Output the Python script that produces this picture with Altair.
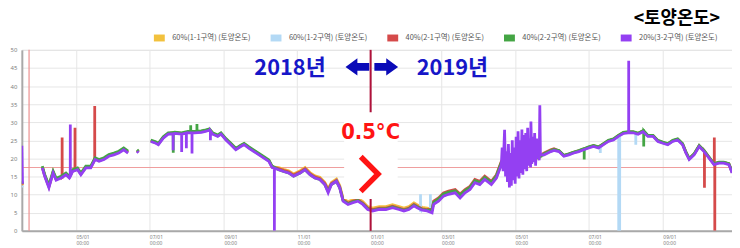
import altair as alt
import pandas as pd

START = pd.Timestamp("2018-03-17")

TITLE = "<토양온도>"
SERIES = ["60%(1-1구역) (토양온도)", "60%(1-2구역) (토양온도)", "40%(2-1구역) (토양온도)",
          "40%(2-2구역) (토양온도)", "20%(3-2구역) (토양온도)"]
COLORS = ["#f2c13d", "#b3d9f5", "#d54a4a", "#44a544", "#9440f2"]

# day offsets from 2018-03-17 (None rows = gaps in the record)
DAYS = [0, 0.5, 8, 17, 19, 22.5, 26, 28.5, 32.6, 36.7,
        39.5, 42.2, 46.3, 49.1, 53.2, 57.3, 60.9, 64.2, 68.3, 72.4,
        76.5, 80.6, 84.7, 88.3, 92, 95.8, 97, 101, 107.2, 110.8,
        113.5, 117.6, 121.7, 127.2, 132.7, 138.2, 143.7, 149.1, 151.9, 156.0,
        158.7, 162.9, 165.6, 169.7, 173.8, 177.9, 182.0, 184.8, 188.9, 193.0,
        197.2, 201.3, 205.4, 208.1, 213.6, 217.7, 221.8, 225.9, 231.4, 235.5,
        239.6, 243.7, 247.8, 251.9, 254.7, 257.4, 261.6, 264.3, 267.1, 271.2,
        275.3, 279.4, 283.5, 287.6, 291.7, 297.2, 302.7, 308.2, 313.6, 317.7,
        321.8, 326.0, 328.7, 332.9, 337.0, 341.1, 342.4, 346.5, 350.6, 354.8,
        360.3, 364.4, 368.5, 372.6, 376.7, 380.8, 384.9, 390.4, 394.6, 398.7,
        402, 408, 416, 424, 430, 434.3, 439.8, 442.5, 446.6, 450.7,
        454.8, 459.0, 463.1, 467.2, 471.3, 475.4, 479.5, 483.6, 487.7, 491.9,
        496.0, 500.1, 504.2, 508.3, 512.4, 516.5, 520.6, 524.8, 528.9, 533.0,
        537.1, 541.2, 545.3, 549.4, 552.2, 554.9, 559.0, 563.2, 567.3, 571.4,
        575.5, 579.6, 583.7, 587.9, 590.6]

P32 = [23.5, 13.0, None, 17.4, 15.1, 11.9, 16.0, 14.0, 14.6, 15.5,
       14.6, 16.4, 16.9, 15.5, 17.4, 17.4, 19.7, 19.2, 19.7, 20.6,
       21.0, 21.5, 22.4, 21.5, None, 22.0, 21.6, None, 24.7, 24.3,
       23.8, 25.6, 26.7, 26.9, 26.7, 27.1, 27.1, 27.2, 27.4, 27.8,
       26.7, 26.1, 26.7, 25.1, 23.8, 22.4, 23.3, 23.8, 22.8, 21.9,
       21.0, 20.1, 19.2, 17.5, 16.9, 16.4, 16.0, 15.1, 16.0, 16.9,
       15.5, 14.6, 14.2, 12.8, 10.5, 12.8, 13.7, 11.9, 8.2, 7.3,
       7.8, 8.2, 7.3, 5.9, 5.5, 5.9, 5.9, 6.4, 5.9, 5.5,
       5.9, 6.9, 6.4, 5.7, 5.5, 5.0, 7.3, 8.2, 9.6, 10.1,
       10.5, 9.1, 10.5, 11.4, 13.3, 12.8, 14.2, 12.8, 14.6, 18.3,
       19.2, 20.1, 19.7, 20.1, 20.3, 21.0, 21.9, 22.2, 21.9, 20.6,
       21.0, 21.5, 21.9, 22.4, 22.9, 23.3, 22.9, 23.8, 24.7, 25.1,
       26.1, 26.9, 27.1, 27.1, 26.7, 27.4, 26.1, 26.1, 24.7, 24.2,
       23.8, 24.7, 25.1, 23.8, 21.5, 19.7, 21.0, 23.3, 21.9, 20.1,
       18.3, 18.7, 18.7, 18.3, 16.0]

G22 = [13.8, 13.0, None, 17.9, 15.6, 12.6, 16.5, 14.5, 15.1, 16.0,
       15.1, 16.9, 17.4, 16.0, 17.9, 17.9, 20.2, 19.7, 20.2, 21.1,
       21.5, 22.0, 22.9, 22.0, None, 22.4, 22.0, None, 25.1, 24.7,
       24.2, 26.0, 27.1, 27.3, 27.1, 27.5, 27.5, 27.6, 27.8, 28.2,
       27.1, 26.5, 27.1, 25.5, 24.2, 22.8, 23.7, 24.2, 23.2, 22.3,
       21.4, 20.5, 19.6, 17.9, 16.9, 16.4, 16.0, 15.1, 16.0, 16.9,
       15.5, 14.6, 14.2, 12.8, 10.9, 12.8, 13.7, 11.9, 8.4, 7.5,
       8.0, 8.4, 7.5, 6.1, 5.7, 6.1, 6.1, 6.6, 6.1, 5.7,
       6.1, 7.1, 6.6, 5.9, 5.7, 5.8, 7.9, 8.8, 10.2, 10.7,
       11.1, 9.9, 11.1, 12.0, 13.9, 13.4, 14.8, 13.4, 15.2, 18.9,
       19.2, 20.1, 19.7, 20.1, 20.3, 21.3, 22.2, 22.5, 22.2, 20.9,
       21.3, 21.8, 22.2, 22.7, 23.2, 23.6, 23.2, 24.1, 25.0, 25.4,
       26.4, 27.2, 27.4, 27.4, 27.0, 27.7, 26.4, 26.4, 25.0, 24.5,
       24.1, 25.0, 25.4, 24.1, 21.8, 20.0, 21.3, 23.6, 22.2, 20.4,
       18.6, 19.0, 19.0, 18.6, 16.3]

R21 = [13.4, 12.8, None, 17.6, 15.3, 12.2, 16.2, 14.2, 14.8, 15.7,
       14.8, 16.6, 17.1, 15.7, 17.6, 17.6, 19.9, 19.4, 19.9, 20.8,
       21.2, 21.7, 22.6, 21.7, None, 22.2, 21.8, None, 24.9, 24.5,
       24.0, 25.8, 26.9, 27.1, 26.9, 27.3, 27.3, 27.4, 27.6, 28.0,
       26.9, 26.3, 26.9, 25.3, 24.0, 22.6, 23.5, 24.0, 23.0, 22.1,
       21.2, 20.3, 19.4, 17.7, 17.2, 16.7, 16.3, 15.4, 16.3, 17.2,
       15.8, 14.9, 14.5, 13.1, 11.3, 13.1, 14.0, 12.2, 8.6, 7.7,
       8.2, 8.6, 7.7, 6.3, 5.9, 6.3, 6.3, 6.8, 6.3, 5.9,
       6.3, 7.3, 6.8, 6.1, 5.9, 5.9, 8.2, 9.1, 10.5, 11.0,
       11.4, 10.2, 11.4, 12.3, 14.2, 13.7, 15.1, 13.7, 15.5, 19.2,
       19.5, 20.4, 20.0, 20.4, 20.6, 21.5, 22.4, 22.7, 22.1, 20.8,
       21.2, 21.7, 22.1, 22.6, 23.1, 23.5, 23.1, 24.0, 24.9, 25.3,
       26.3, 27.1, 27.3, 27.3, 26.9, 27.6, 26.3, 26.3, 24.9, 24.4,
       24.0, 24.9, 25.3, 24.0, 21.7, 19.9, 21.2, 23.5, 22.1, 20.3,
       18.5, 18.9, 18.9, 18.5, 16.2]

Y11 = [13.2, 12.6, None, 17.7, 15.4, 12.3, 16.3, 14.3, 14.9, 15.8,
       14.9, 16.7, 17.2, 15.8, 17.7, 17.7, 20.0, 19.5, 20.0, 20.9,
       21.3, 21.8, 22.7, 21.8, None, 22.2, 21.8, None, 24.9, 24.5,
       24.0, 25.8, 26.9, 27.1, 26.9, 27.3, 27.3, 27.4, 27.6, 28.0,
       26.9, 26.3, 26.9, 25.3, 24.0, 22.6, 23.5, 24.0, 23.0, 22.1,
       21.2, 20.3, 19.4, 17.7, 17.5, 17.0, 16.6, 15.7, 16.6, 17.5,
       16.1, 15.2, 14.8, 13.4, 11.6, 13.4, 14.3, 12.5, 9.0, 8.1,
       8.6, 9.0, 8.1, 6.7, 6.3, 6.7, 6.7, 7.2, 6.7, 6.3,
       6.7, 7.7, 7.2, 6.5, 6.3, 6.0, 7.5, 8.4, 9.8, 10.3,
       10.7, 9.5, 10.7, 11.6, 13.5, 13.0, 14.4, 13.0, 14.8, 18.5,
       19.0, 19.9, 19.5, 19.9, 20.1, 21.2, 22.1, 22.4, 22.1, 20.8,
       21.2, 21.7, 22.1, 22.6, 23.1, 23.5, 23.1, 24.0, 24.9, 25.3,
       26.3, 27.1, 27.3, 27.3, 26.9, 27.6, 26.3, 26.3, 24.9, 24.4,
       24.0, 24.9, 25.3, 24.0, 21.7, 19.9, 21.2, 23.5, 22.1, 20.3,
       18.5, 18.9, 18.9, 18.5, 16.2]

B12 = [12.4, 12.0, None, 17.6, 15.3, 12.2, 16.2, 14.2, 14.8, 15.7,
       14.8, 16.6, 17.1, 15.7, 17.6, 17.6, 19.9, 19.4, 19.9, 20.8,
       21.2, 21.7, 22.6, 21.7, None, 22.1, 21.7, None, 24.8, 24.4,
       23.9, 25.7, 26.8, 27.0, 26.8, 27.2, 27.2, 27.3, 27.5, 27.9,
       26.8, 26.2, 26.8, 25.2, 23.9, 22.5, 23.4, 23.9, 22.9, 22.0,
       21.1, 20.2, 19.3, 17.6, 17.1, 16.6, 16.2, 15.3, 16.2, 17.1,
       15.7, 14.8, 14.4, 13.0, 11.1, 13.0, 13.9, 12.1, 8.5, 7.6,
       8.1, 8.5, 7.6, 6.2, 5.8, 6.2, 6.2, 6.7, 6.2, 5.8,
       6.2, 7.2, 6.7, 6.0, 5.8, 5.8, 7.5, 8.4, 9.8, 10.3,
       10.7, 9.5, 10.7, 11.6, 13.5, 13.0, 14.4, 13.0, 14.8, 18.5,
       19.1, 20.0, 19.6, 20.0, 20.2, 21.1, 22.0, 22.3, 22.0, 20.7,
       21.1, 21.6, 22.0, 22.5, 23.0, 23.4, 23.0, 23.9, 24.8, 25.2,
       26.2, 27.0, 27.2, 27.2, 26.8, 27.5, 26.2, 26.2, 24.8, 24.3,
       23.9, 24.8, 25.2, 23.9, 21.6, 19.8, 21.1, 23.4, 22.0, 20.2,
       18.4, 18.8, 18.8, 18.4, 16.1]

# noisy stretch of the 3-2 probe in spring 2019
P32_NOISE_DAYS = [399.4, 400.2, 401.0, 401.4, 402.2, 403.0, 403.8, 404.6, 405.4, 406.2,
                  407.0, 407.8, 408.6, 409.4, 410.2, 411.0, 411.8, 412.6, 413.4, 414.2,
                  415.0, 415.8, 416.6, 417.4, 418.2, 419.0, 419.8, 420.6, 421.4, 422.2,
                  423.0, 423.3, 424.0, 424.8, 425.6, 426.4, 427.2, 428.0, 428.8, 429.6,
                  430.2, 430.7, 431.2]
P32_NOISE = [23.0, 16.5, 24.5, 27.9, 15.0, 22.0, 13.5, 24.0, 12.0, 21.5,
             12.5, 25.0, 14.0, 23.0, 13.0, 26.0, 15.0, 27.5, 14.5, 25.0,
             16.0, 28.0, 15.5, 26.5, 17.0, 27.0, 16.5, 28.5, 18.0, 25.5,
             17.5, 30.2, 18.5, 26.0, 19.0, 27.0, 18.0, 25.5, 20.0, 24.0,
             19.5, 34.7, 21.0]

# spikes: (day, level before/after, spike value)
Y11_SPIKES = []
B12_SPIKES = [(331.5, 5.8, 10.1), (339.7, 5.7, 10.1), (481.0, 23.1, 21.5),
              (496.3, 26.2, 0.0), (497.1, 26.3, 0.0), (510.5, 27.0, 23.8)]
R21_SPIKES = [(33.5, 14.8, 25.8), (44.2, 16.8, 28.5), (60.6, 19.6, 34.5),
              (567.6, 22.0, 11.9), (575.8, 18.5, 25.8), (576.2, 18.5, 0.0)]
G22_SPIKES = [(125.9, 27.2, 21.6), (140.4, 27.5, 29.2), (145.6, 27.5, 29.5),
              (467.6, 22.7, 19.7), (517.1, 27.7, 23.3)]
P32_SPIKES = [(40.3, 15.0, 29.4), (125.8, 26.8, 22.3), (132.9, 26.7, 21.8),
              (136.8, 27.0, 22.8), (141.5, 27.1, 21.4), (156.8, 27.6, 25.0),
              (210.0, 17.3, 0.0), (504.6, 27.1, 47.0)]


def build(name, values, spikes, extra_days=(), extra_values=()):
    rows = list(zip(DAYS, values))
    for d, base, peak in spikes:
        rows += [(d - 0.05, base), (d, peak), (d + 0.05, base)]
    rows += list(zip(extra_days, extra_values))
    f = pd.DataFrame(rows, columns=["day", "value"]).sort_values("day", kind="stable")
    f["value"] = pd.to_numeric(f["value"])
    f["seg"] = f["value"].isna().cumsum()
    f = f.dropna(subset=["value"]).copy()
    f["date"] = START + pd.to_timedelta(f["day"], unit="D")
    f["series"] = name
    return f[["date", "value", "seg", "series"]]


frames = [
    build(SERIES[0], Y11, Y11_SPIKES),
    build(SERIES[1], B12, B12_SPIKES),
    build(SERIES[2], R21, R21_SPIKES),
    build(SERIES[3], G22, G22_SPIKES),
    build(SERIES[4], P32, P32_SPIKES, P32_NOISE_DAYS, P32_NOISE),
]

TICK_MONTHS = [(2018, 5), (2018, 7), (2018, 9), (2018, 11), (2019, 1),
               (2019, 3), (2019, 5), (2019, 7), (2019, 9)]

x_enc = alt.X(
    "date:T",
    scale=alt.Scale(domain=[alt.DateTime(year=2018, month=3, date=17),
                            alt.DateTime(year=2019, month=10, date=28, hours=12)]),
    axis=alt.Axis(
        values=[alt.DateTime(year=y, month=m, date=1) for y, m in TICK_MONTHS],
        labelExpr="[timeFormat(datum.value, '%m/%d'), '00:00']",
        labelAlign="left", labelBaseline="top", labelFontSize=5, labelLineHeight=6,
        labelColor="#808080", labelFont="Noto Sans", labelPadding=4,
        ticks=False, grid=True, gridColor="#e6e6e6", gridWidth=1,
        domainColor="#a9a9a9", domainWidth=2, title=None,
        labelOverlap=False, labelFlush=False,
    ),
)
y_enc = alt.Y(
    "value:Q",
    scale=alt.Scale(domain=[0, 50], nice=False, zero=False),
    axis=alt.Axis(
        values=list(range(0, 51, 5)), labelFontSize=6, labelColor="#808080",
        labelFont="Noto Sans", ticks=False, labelPadding=5, grid=True,
        gridColor="#e6e6e6", gridWidth=1, domainColor="#a9a9a9", domainWidth=2,
        title=None,
    ),
)
color_enc = alt.Color(
    "series:N",
    scale=alt.Scale(domain=SERIES, range=COLORS),
    legend=alt.Legend(
        orient="none", legendX=130, legendY=-21, direction="horizontal", title=None,
        symbolType="stroke", symbolStrokeWidth=7, symbolSize=121,
        labelFontSize=7.5, labelColor="#555555", labelFont="Noto Sans CJK KR",
        columnPadding=5, labelOffset=4, labelLimit=300, padding=0,
    ),
)

# reference lines
hline = alt.Chart(pd.DataFrame({"value": [17.5]})).mark_rule(
    color="#ef9d9d", strokeWidth=1).encode(y=y_enc)
vline_start = alt.Chart(pd.DataFrame({"date": [pd.Timestamp("2018-03-23")]})).mark_rule(
    color="#ec8f8f", strokeWidth=1.2).encode(x=x_enc)

line_layers = [
    alt.Chart(f).mark_line(strokeWidth=2.8, clip=True).encode(
        x=x_enc, y=y_enc, color=color_enc, detail="seg:N")
    for f in frames
]

year_split = alt.Chart(pd.DataFrame({"date": [pd.Timestamp("2019-01-01")]})).mark_rule(
    color="#b0103a", strokeWidth=2).encode(x=x_enc)

white_box = alt.Chart(pd.DataFrame({
    "date": [pd.Timestamp("2018-12-10")], "date2": [pd.Timestamp("2019-01-23 12:00")],
    "value": [8.8], "value2": [32.8]})).mark_rect(color="white").encode(
    x=x_enc, x2="date2:T", y=y_enc, y2="value2:Q")

years = alt.Chart(pd.DataFrame({
    "date": [pd.Timestamp("2018-10-26"), pd.Timestamp("2019-03-10")],
    "value": [45.1, 45.1], "label": ["2018년", "2019년"]})).mark_text(
    font="Noto Sans CJK KR", fontWeight="bold", fontSize=22, color="#1616c8",
    align="center", baseline="middle").encode(x=x_enc, y=y_enc, text="label:N")

LEFT_ARROW = "M-1,0L0,-0.72L0,-0.33L1,-0.33L1,0.33L0,0.33L0,0.72Z"
RIGHT_ARROW = "M1,0L0,-0.72L0,-0.33L-1,-0.33L-1,0.33L0,0.33L0,0.72Z"
arrow_l = alt.Chart(pd.DataFrame({"date": [pd.Timestamp("2018-12-21")], "value": [45.3]})).mark_point(
    shape=LEFT_ARROW, filled=True, size=576, color="#0a0ab8", opacity=1, strokeWidth=0).encode(x=x_enc, y=y_enc)
arrow_r = alt.Chart(pd.DataFrame({"date": [pd.Timestamp("2019-01-14")], "value": [45.3]})).mark_point(
    shape=RIGHT_ARROW, filled=True, size=576, color="#0a0ab8", opacity=1, strokeWidth=0).encode(x=x_enc, y=y_enc)

diff_text = alt.Chart(pd.DataFrame({
    "date": [pd.Timestamp("2019-01-01")], "value": [27.3], "label": ["0.5°C"]})).mark_text(
    font="Liberation Sans Narrow, DejaVu Sans Condensed, sans-serif", fontWeight="bold",
    fontSize=22, color="#ff1414", align="center", baseline="middle").encode(
    x=x_enc, y=y_enc, text="label:N")

chevron = alt.Chart(pd.DataFrame({"date": [pd.Timestamp("2018-12-31")], "value": [15.7]})).mark_point(
    shape="M-0.5,-1L0.5,0L-0.5,1", filled=False, size=1225, color="#ff1414",
    strokeWidth=5.5, opacity=1).encode(x=x_enc, y=y_enc)

# chart heading, placed above the plot's top-right corner
heading = alt.Chart(pd.DataFrame({"label": [TITLE]})).mark_text(
    font="Noto Sans CJK KR", fontWeight="bold", fontSize=18, color="#000000",
    align="right", baseline="middle").encode(
    x=alt.value(706), y=alt.value(-31), text="label:N")

chart = alt.layer(
    hline, vline_start, *line_layers, year_split, white_box,
    years, arrow_l, arrow_r, diff_text, chevron, heading,
).properties(
    width=718, height=183,
    autosize=alt.AutoSizeParams(type="none"),
    padding={"left": 14, "top": 41, "right": 0, "bottom": 16},
).configure_view(stroke="#bdbdbd", strokeWidth=1.5).configure(background="white")

chart.save("out.html", embed_options={"renderer": "svg", "actions": False})
